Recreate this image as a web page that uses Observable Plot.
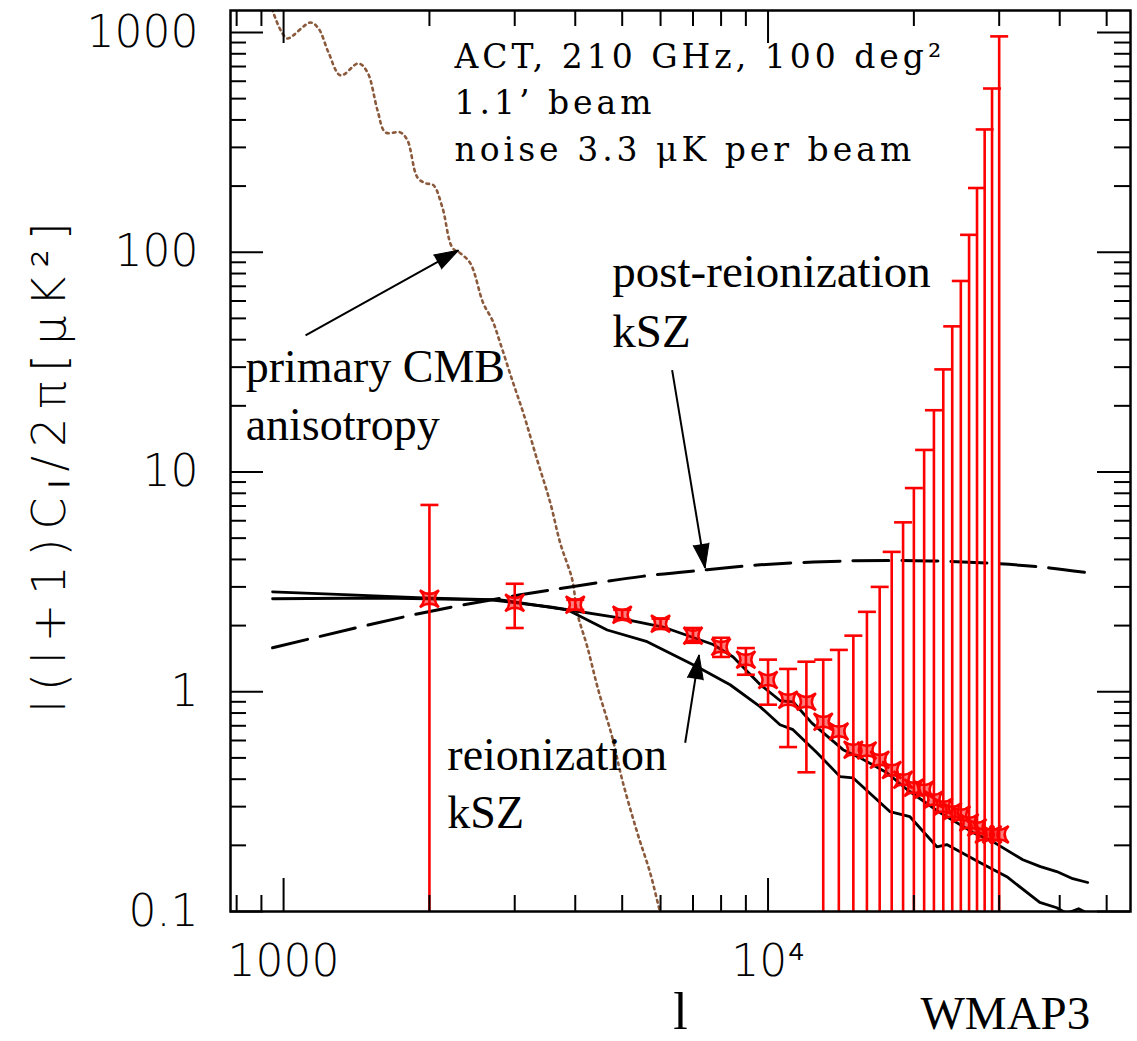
<!DOCTYPE html>
<html>
<head>
<meta charset="utf-8">
<script src="https://cdn.jsdelivr.net/npm/d3@7"></script>
<script src="https://cdn.jsdelivr.net/npm/@observablehq/plot@0.6"></script>
<style>
  html, body { margin: 0; padding: 0; background: #ffffff; }
  #chart svg { display: block; }
</style>
</head>
<body>
<div id="chart"></div>
<script>
// ---------------- data ----------------
// simulated ACT band powers (multipole l, power, error bar low/high)
const ell = [2000, 3000, 4000, 5000, 6000, 7000, 8000, 9000, 10000, 11000, 12000, 13000, 14000, 15000,
  16000, 17000, 18000, 19000, 20000, 21000, 22000, 23000, 24000, 25000, 26000, 27000, 28000, 29000, 30000];
const power = [2.65, 2.54, 2.49, 2.24, 2.04, 1.80, 1.60, 1.40, 1.13, 0.92, 0.90, 0.73, 0.66, 0.545,
  0.54, 0.49, 0.44, 0.398, 0.366, 0.358, 0.323, 0.30, 0.285, 0.276, 0.254, 0.241, 0.224, 0.224, 0.224];
const errLow = [0.05, 1.95, 2.36, 2.13, 1.93, 1.67, 1.44, 1.195, 0.873, 0.56, 0.43, 0.05, 0.05, 0.05,
  0.05, 0.05, 0.05, 0.05, 0.05, 0.05, 0.05, 0.05, 0.05, 0.05, 0.05, 0.05, 0.05, 0.05, 0.05];
const errHigh = [7.08, 3.10, 2.62, 2.36, 2.15, 1.95, 1.76, 1.58, 1.40, 1.27, 1.37, 1.40, 1.55, 1.80,
  2.31, 3.0, 4.33, 5.9, 8.45, 12.6, 19.1, 29.3, 46, 74, 120, 196, 362, 556, 960];

// primary CMB anisotropy (dotted)
const cmbL = [931, 949, 995, 1019, 1137, 1181, 1238, 1311, 1428, 1490, 1563, 1623, 1742, 1802, 1889, 1963,
  2038, 2127, 2230, 2316, 2430, 2583, 2697, 2800, 2964, 3126, 3340, 3553, 3724, 3944, 4037, 4236, 4462,
  4766, 4999, 5370, 5710, 5932, 6041];
const cmbV = [1473, 1259, 989, 939, 1110, 1042, 811, 638, 723, 658, 442, 351, 351, 323, 219, 206,
  202, 160, 105, 99, 89, 58.6, 49.1, 38.6, 26.2, 18.5, 11.3, 7.23, 4.75, 3.23, 2.29, 1.60, 1.02,
  0.624, 0.398, 0.229, 0.150, 0.1076, 0.092];

// reionization kSZ, model A (upper at high l)
const reionAL = [949, 1585, 2673, 3553, 4786, 6075, 7703, 8472, 9628, 10600, 11260, 12320, 14280, 15500,
  17600, 19350, 22630, 26470, 29100, 33570, 36500, 39440, 42560, 45700];
const reionAV = [2.65, 2.67, 2.62, 2.43, 2.19, 1.97, 1.64, 1.44, 1.08, 0.91, 0.90, 0.72, 0.545, 0.50,
  0.428, 0.359, 0.282, 0.229, 0.208, 0.172, 0.160, 0.152, 0.141, 0.1355];

// reionization kSZ, model B (lower at high l)
const reionBL = [949, 1374, 1944, 2802, 3852, 4656, 5630, 7138, 8350, 9628, 10585, 11260, 12620, 14080,
  14970, 17840, 19630, 22310, 23390, 27360, 31110, 36380, 39440, 41350, 43760, 46130];
const reionBV = [2.85, 2.76, 2.67, 2.62, 2.36, 1.91, 1.69, 1.30, 1.076, 0.855, 0.708, 0.672, 0.528, 0.411,
  0.406, 0.285, 0.270, 0.197, 0.2017, 0.167, 0.144, 0.110, 0.104, 0.098, 0.103, 0.097];

// post-reionization kSZ (dashed)
const postL = [949, 1944, 3082, 3907, 5500, 7483, 9628, 14760, 21580, 30060, 38140, 46130];
const postV = [1.585, 2.29, 2.76, 3.0, 3.35, 3.59, 3.78, 3.94, 3.94, 3.82, 3.66, 3.47];

// annotation arrows (tail -> head), in data units
const arrowFromL = [1110, 6339, 6745];
const arrowFromV = [41.9, 29.1, 0.586];
const arrowToL = [2296, 7413, 7206];
const arrowToV = [102, 3.66, 1.47];

// axes
const xMajor = [1000, 10000];
const xTickLabels = ["1000", "10⁴"];
const xMinor = [800, 900, 2000, 3000, 4000, 5000, 6000, 7000, 8000, 9000, 20000, 30000, 40000, 50000];
const yMajor = [0.1, 1, 10, 100, 1000];
const yTickLabels = ["0.1", "1", "10", "100", "1000"];
const yMinor = [0.2, 0.3, 0.4, 0.5, 0.6, 0.7, 0.8, 0.9, 2, 3, 4, 5, 6, 7, 8, 9,
  20, 30, 40, 50, 60, 70, 80, 90, 200, 300, 400, 500, 600, 700, 800, 900];

// ---------------- layout ----------------
const W = 1137, H = 1041, mL = 230, mR = 7, mT = 10, mB = 130;
const fw = W - mL - mR, fh = H - mT - mB;
const xDomain = [777, 56000], yDomain = [0.1, 1259];

const table = (xs, ys) => xs.map((x, i) => ({x, y: ys[i]}));
const bands = ell.map((l, i) => ({l, p: power[i], lo: errLow[i], hi: errHigh[i]}));

const sx = Plot.scale({x: {type: "log", domain: xDomain, range: [mL, W - mR]}});
const sy = Plot.scale({y: {type: "log", domain: yDomain, range: [H - mB, mT]}});
const arrowIdx = arrowFromL.map((_, i) => i);
const arrowAngle = arrowIdx.map(i => {
  const dx = sx.apply(arrowToL[i]) - sx.apply(arrowFromL[i]);
  const dy = sy.apply(arrowToV[i]) - sy.apply(arrowFromV[i]);
  return Math.atan2(dx, -dy) * 180 / Math.PI;
});

const starSymbol = {
  draw(context, size) {
    const r = Math.sqrt(size / Math.PI), a = r, b = r * 0.9;
    context.moveTo(-a, -b);
    context.quadraticCurveTo(0, -0.15 * b, a, -b);
    context.quadraticCurveTo(0.15 * a, 0, a, b);
    context.quadraticCurveTo(0, 0.15 * b, -a, b);
    context.quadraticCurveTo(-0.15 * a, 0, -a, -b);
    context.closePath();
  }
};
const capSymbol = {
  draw(context, size) {
    const r = Math.sqrt(size / Math.PI);
    context.moveTo(-r, 0);
    context.lineTo(r, 0);
  }
};

const tickFont = {fontFamily: "DejaVu Sans", fontWeight: 200, fontSize: 44, fill: "black"};
const serifFont = {fontFamily: "Liberation Serif", fontSize: 47, fill: "black"};

const plot = Plot.plot({
  width: W,
  height: H,
  marginLeft: mL,
  marginRight: mR,
  marginTop: mT,
  marginBottom: mB,
  style: {background: "white", overflow: "visible"},
  x: {type: "log", domain: xDomain, axis: null},
  y: {type: "log", domain: yDomain, axis: null},
  marks: [
    // primary CMB
    Plot.line(table(cmbL, cmbV), {x: "x", y: "y", stroke: "#8b5a3c", strokeWidth: 2.6,
      strokeDasharray: "2.6,4.2", curve: "catmull-rom", clip: true}),
    // post-reionization kSZ
    Plot.line(table(postL, postV), {x: "x", y: "y", stroke: "black", strokeWidth: 3,
      strokeDasharray: "36,13", curve: "catmull-rom", clip: true}),
    // reionization kSZ models
    Plot.line(table(reionAL, reionAV), {x: "x", y: "y", stroke: "black", strokeWidth: 2.8, clip: true}),
    Plot.line(table(reionBL, reionBV), {x: "x", y: "y", stroke: "black", strokeWidth: 2.8, clip: true}),
    // error bars
    Plot.ruleX(bands, {x: "l", y1: "lo", y2: "hi", stroke: "red", strokeWidth: 2.6, clip: true}),
    Plot.dot(bands, {x: "l", y: "hi", symbol: capSymbol, r: 9, stroke: "red", strokeWidth: 2.6, fill: "none", clip: true}),
    Plot.dot(bands.filter(d => d.lo >= yDomain[0]), {x: "l", y: "lo", symbol: capSymbol, r: 9, stroke: "red", strokeWidth: 2.6, fill: "none"}),
    Plot.dot(bands, {x: "l", y: "p", symbol: starSymbol, r: 9.5, stroke: "red", strokeWidth: 2.4, fill: "red", fillOpacity: 0.5}),
    // arrows
    Plot.link(arrowIdx, {x1: i => arrowFromL[i], y1: i => arrowFromV[i], x2: i => arrowToL[i], y2: i => arrowToV[i],
      stroke: "black", strokeWidth: 2}),
    Plot.vector(arrowIdx, {x: i => arrowToL[i], y: i => arrowToV[i], rotate: i => arrowAngle[i],
      length: 24, r: 8, shape: "spike", anchor: "end", fill: "black", stroke: "black", strokeWidth: 1}),
    // frame and ticks
    Plot.frame({stroke: "black", strokeWidth: 2.5}),
    Plot.ruleX(xMajor, {x: d => d, insetTop: fh - 33, stroke: "black", strokeWidth: 2}),
    Plot.ruleX(xMajor, {x: d => d, insetBottom: fh - 33, stroke: "black", strokeWidth: 2}),
    Plot.ruleX(xMinor, {x: d => d, insetTop: fh - 16, stroke: "black", strokeWidth: 2}),
    Plot.ruleX(xMinor, {x: d => d, insetBottom: fh - 16, stroke: "black", strokeWidth: 2}),
    Plot.ruleY(yMajor, {y: d => d, insetRight: fw - 33, stroke: "black", strokeWidth: 2}),
    Plot.ruleY(yMajor, {y: d => d, insetLeft: fw - 33, stroke: "black", strokeWidth: 2}),
    Plot.ruleY(yMinor, {y: d => d, insetRight: fw - 16, stroke: "black", strokeWidth: 2}),
    Plot.ruleY(yMinor, {y: d => d, insetLeft: fw - 16, stroke: "black", strokeWidth: 2}),
    // tick labels
    Plot.text(xMajor, {x: d => d, text: (d, i) => xTickLabels[i], frameAnchor: "bottom", dy: 64,
      lineAnchor: "bottom", textAnchor: "middle", ...tickFont}),
    Plot.text(yMajor, {y: d => d, text: (d, i) => yTickLabels[i], frameAnchor: "left", dx: -32,
      textAnchor: "end", lineAnchor: "middle", ...tickFont}),
    // axis titles
    Plot.text(["l(l+1)Cₗ/2π[μK²]"], {frameAnchor: "left", dx: -180, dy: 2, rotate: -90,
      textAnchor: "middle", lineAnchor: "middle", ...tickFont, fontSize: 46}),
    Plot.text(["l"], {frameAnchor: "bottom-left", dx: 450, dy: 117, textAnchor: "middle",
      lineAnchor: "bottom", ...serifFont, fontSize: 52}),
    Plot.text(["WMAP3"], {frameAnchor: "bottom-left", dx: 690, dy: 117, textAnchor: "start",
      lineAnchor: "bottom", ...serifFont}),
    // annotations
    Plot.text(["ACT, 210 GHz, 100 deg²\n1.1’ beam\nnoise 3.3 μK per beam"], {frameAnchor: "top-left",
      dx: 224, dy: 150, textAnchor: "start", lineAnchor: "bottom", lineHeight: 1.4,
      fontFamily: "DejaVu Serif", fontSize: 33, fill: "black"}),
    Plot.text(["primary CMB\nanisotropy"], {x: 835, y: 13.98, textAnchor: "start", lineAnchor: "bottom",
      lineHeight: 1.26, ...serifFont, fontSize: 46}),
    Plot.text(["post-reionization\nkSZ"], {x: 4769, y: 37.0, textAnchor: "start", lineAnchor: "bottom",
      lineHeight: 1.28, ...serifFont}),
    Plot.text(["reionization\nkSZ"], {x: 2178, y: 0.241, textAnchor: "start", lineAnchor: "bottom",
      lineHeight: 1.26, ...serifFont, fontSize: 46})
  ]
});

document.getElementById("chart").appendChild(plot);

// wide letter spacing like the original plotting package
d3.select(plot).selectAll("text").each(function () {
  const t = this.textContent;
  if (t.startsWith("ACT")) this.setAttribute("letter-spacing", "4");
  if (t.startsWith("l(l+1)")) this.setAttribute("letter-spacing", "9");
});
</script>
</body>
</html>
